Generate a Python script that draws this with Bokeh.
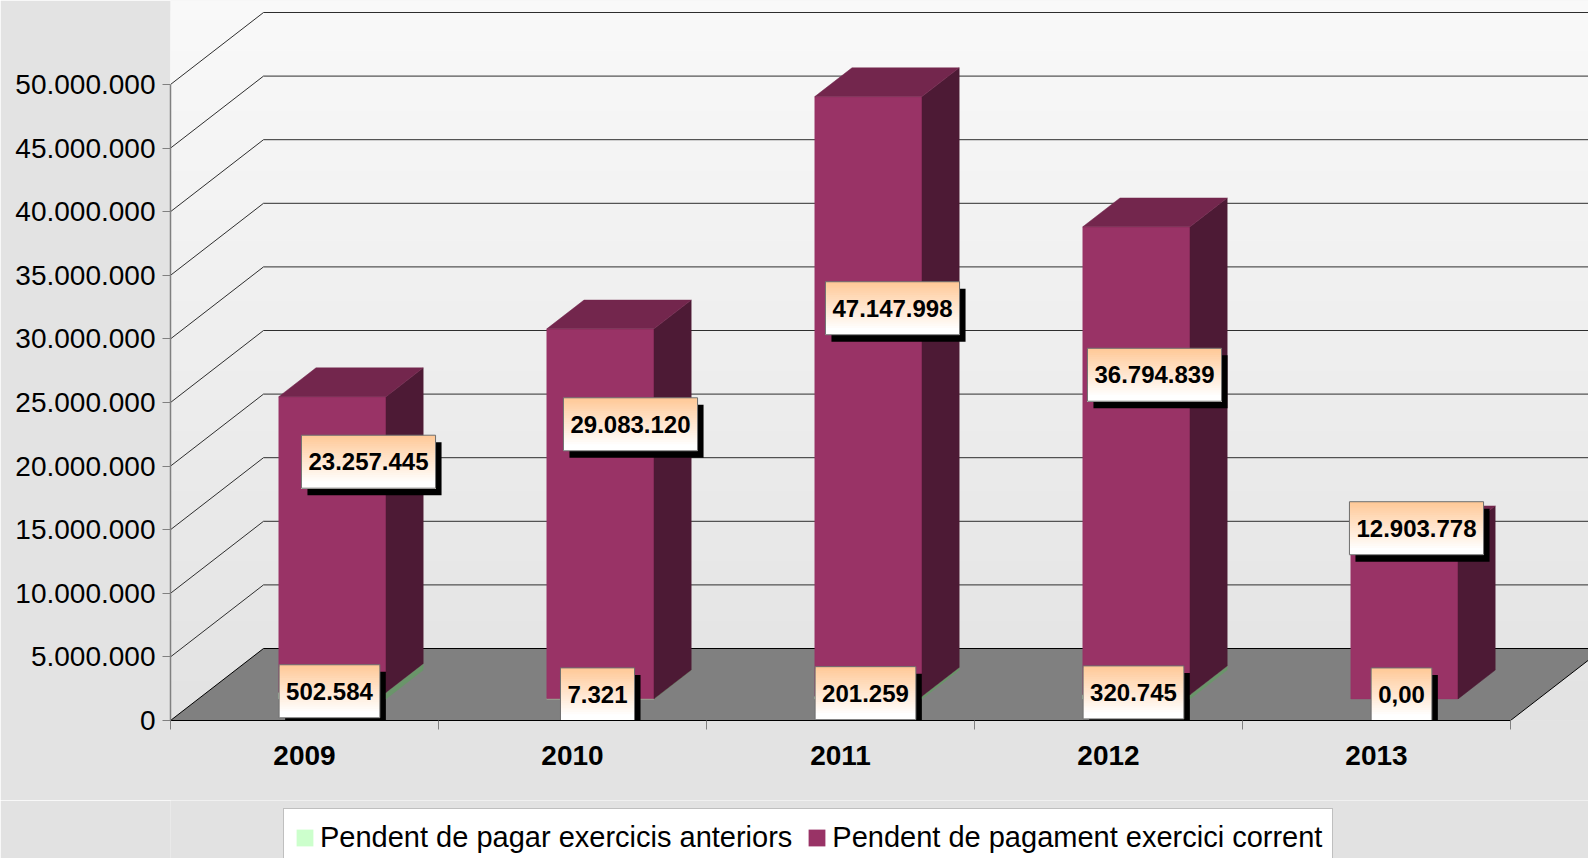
from bokeh.plotting import figure
from bokeh.layouts import column
from bokeh.models import Range1d, FixedTicker, Legend, LegendItem
from bokeh.embed import file_html
from bokeh.resources import INLINE
from bokeh.core.properties import value

# ---------------- data ----------------
years = ["2009", "2010", "2011", "2012", "2013"]
prev_years = [502584, 7321, 201259, 320745, 0]                     # Pendent de pagar exercicis anteriors
current_year = [23257445, 29083120, 47147998, 36794839, 12903778]  # Pendent de pagament exercici corrent
y_ticks = [0, 5000000, 10000000, 15000000, 20000000, 25000000,
           30000000, 35000000, 40000000, 45000000, 50000000]
series_names = ["Pendent de pagar exercicis anteriors", "Pendent de pagament exercici corrent"]

FONT = value("Liberation Sans")


def fmt(v):
    return "0,00" if v == 0 else f"{v:,}".replace(",", ".")


def tick_fmt(v):
    return "0" if v == 0 else f"{v:,}".replace(",", ".")


# ---------------- geometry (pixels -> data) ----------------
W, H = 1588, 858
LEG_FIG_H = 58
H1 = H - LEG_FIG_H
FRAME_L, PAD_B = 170, 80
FRAME_W, FRAME_H = W - FRAME_L, H1 - PAD_B
CAT_PX = 268.0                 # px per category
VAL_PX = 636.0 / 50e6          # px per value unit
x_end = FRAME_W / CAT_PX
y_end = FRAME_H / VAL_PX
DX = 93 / CAT_PX               # full depth offset
DY = 72 / VAL_PX
PXX = 1 / CAT_PX
PXY = 1 / VAL_PX


def P(x, v, d):
    return (x + d * DX, v + d * DY)


def grey(py):
    g = int(round(249 - 27 * py / 858))
    return "#%02x%02x%02x" % (g, g, g)


p = figure(width=W, height=H1, x_range=Range1d(0, x_end), y_range=Range1d(0, y_end),
           output_backend="svg", toolbar_location=None,
           min_border_left=FRAME_L, min_border_right=0, min_border_top=0, min_border_bottom=PAD_B)
p.xgrid.visible = False
p.ygrid.visible = False
p.outline_line_color = None
p.background_fill_color = "#EEEEEE"
p.border_fill_color = "#E3E3E3"

# background gradient in frame (each strip reaches the frame bottom; drawn top first)
NS = 72
bt, bb, bc = [], [], []
for k in range(NS - 1, -1, -1):
    ym = y_end * (k + 0.5) / NS
    bt.append(y_end * (k + 1) / NS)
    bb.append(0)
    bc.append(grey(FRAME_H * (1 - ym / y_end)))
p.quad(left=[0] * NS, right=[x_end + 1] * NS, top=bt, bottom=bb, fill_color=bc, line_color=None)

# walls gridlines
gx, gy = [], []
for v in y_ticks:
    if v == 0:
        continue
    a = P(0, v, 0); b = P(0, v, 1)
    gx.append([a[0], b[0], x_end + 1]); gy.append([a[1], b[1], b[1]])
p.multi_line(gx, gy, line_color="#2e2e2e", line_width=1)

# floor
fl = [P(0, 0, 0), P(5, 0, 0), P(5, 0, 1), P(0, 0, 1)]
p.patch([q[0] for q in fl], [q[1] for q in fl], fill_color="#808080", line_color="#000000", line_width=1)

# bars
D0, D1 = 0.3, 0.7
series = [
    (prev_years, "#CCFFCC", "#6A956A", "#99CC99"),
    (current_year, "#993366", "#4D1A35", "#73264D"),
]
base = [0] * len(years)
for vals, cf, cs, ct in series:
    fx, fy, sx, sy, tx, ty = [], [], [], [], [], []
    for i, v in enumerate(vals):
        v0, v1 = base[i], base[i] + v
        base[i] = v1
        if v <= 0:
            continue
        x0, x1 = i + 0.3, i + 0.7
        front = [P(x0, v0, D0), P(x1, v0, D0), P(x1, v1, D0), P(x0, v1, D0)]
        side = [P(x1, v0, D0), P(x1, v0, D1), P(x1, v1, D1), P(x1, v1, D0)]
        top = [P(x0, v1, D0), P(x1, v1, D0), P(x1, v1, D1), P(x0, v1, D1)]
        fx.append([q[0] for q in front]); fy.append([q[1] for q in front])
        sx.append([q[0] for q in side]); sy.append([q[1] for q in side])
        tx.append([q[0] for q in top]); ty.append([q[1] for q in top])
    p.patches(fx, fy, fill_color=cf, line_color=cf, line_width=0.5)
    p.patches(sx, sy, fill_color=cs, line_color=cs, line_width=0.5)
    p.patches(tx, ty, fill_color=ct, line_color=ct, line_width=0.5)

# data labels
LBL_FS = 24
lab_x, lab_y, lab_t = [], [], []
for i, v in enumerate(prev_years):
    lab_x.append(i + 0.5 + 25 * PXX)
    lab_y.append(D0 * DY + 0.35e6 + v / 2)
    lab_t.append(fmt(v))
for i, v in enumerate(current_year):
    lab_x.append(i + 0.5 + (64 - 6 * i) * PXX)
    lab_y.append(8.6e6 + 0.505 * v)
    lab_t.append(fmt(v))


def text_px(t):
    nd = sum(c.isdigit() for c in t)
    npn = len(t) - nd
    return LBL_FS * (0.556 * nd + 0.278 * npn)


HB = 53
sh_x, sh_y, sh_w = [], [], []
st_l, st_r, st_t, st_b, st_c = [], [], [], [], []
NSTR = 24
for cx, cy, t in zip(lab_x, lab_y, lab_t):
    wpx = text_px(t) + 14
    sh_x.append(cx + 6 * PXX); sh_y.append(cy - 7 * PXY); sh_w.append(wpx * PXX)
    top = cy + HB / 2 * PXY
    bot = cy - HB / 2 * PXY
    for k in range(NSTR):
        f = min(1.0, (k + 0.5) / (NSTR * 0.9))
        g = int(round(0xC8 + (255 - 0xC8) * f))
        b = int(round(0x96 + (255 - 0x96) * f))
        st_l.append(cx - wpx / 2 * PXX); st_r.append(cx + wpx / 2 * PXX)
        st_t.append(top - HB * k / NSTR * PXY); st_b.append(bot)
        st_c.append("#%02x%02x%02x" % (255, g, b))

p.rect(sh_x, sh_y, width=sh_w, height=HB * PXY, fill_color="#000000", line_color=None)
p.quad(left=st_l, right=st_r, top=st_t, bottom=st_b, fill_color=st_c, line_color=None)
p.rect(lab_x, lab_y, width=sh_w, height=HB * PXY, fill_alpha=0,
       line_color="#6E6E6E", line_width=1)
p.text(lab_x, lab_y, text=lab_t, text_align="center", text_baseline="middle",
       text_font=FONT, text_font_style="bold", text_font_size=f"{LBL_FS}px", text_color="#000000")

# axes
xa = p.xaxis[0]
xa.ticker = FixedTicker(ticks=[i + 0.5 for i in range(len(years))], minor_ticks=list(range(len(years) + 1)))
xa.major_label_overrides = {i + 0.5: y for i, y in enumerate(years)}
xa.bounds = (0, len(years))
xa.axis_line_color = "#000000"
xa.axis_line_width = 1
xa.major_tick_out = 0
xa.major_tick_in = 0
xa.major_tick_line_color = None
xa.minor_tick_out = 9
xa.minor_tick_in = 0
xa.minor_tick_line_color = "#808080"
xa.major_label_standoff = 16
xa.major_label_text_font = "Liberation Sans"
xa.major_label_text_font_style = "bold"
xa.major_label_text_font_size = "28px"
xa.major_label_text_color = "#000000"

ya = p.yaxis[0]
ya.ticker = FixedTicker(ticks=y_ticks, minor_ticks=[])
ya.major_label_overrides = {v: tick_fmt(v) for v in y_ticks}
ya.bounds = (0, y_ticks[-1])
ya.axis_line_color = "#808080"
ya.axis_line_width = 1.5
ya.major_tick_out = 8
ya.major_tick_in = 0
ya.major_tick_line_color = "#808080"
ya.minor_tick_line_color = None
ya.major_label_standoff = 7
ya.major_label_text_font = "Liberation Sans"
ya.major_label_text_font_size = "28px"
ya.major_label_text_color = "#000000"

# legend strip (separate figure under the chart; its frame lines up with the chart frame)
q = figure(width=W, height=LEG_FIG_H, x_range=Range1d(0, 1), y_range=Range1d(0, 1),
           output_backend="svg", toolbar_location=None, x_axis_type=None, y_axis_type=None,
           min_border_left=0, min_border_right=0, min_border_top=0, min_border_bottom=0)
q.xgrid.visible = False
q.ygrid.visible = False
q.outline_line_color = None
q.background_fill_color = "#E2E2E2"
q.border_fill_color = "#E2E2E2"
r1 = q.quad(left=[-5], right=[-4], top=[-4], bottom=[-5], fill_color="#CCFFCC", line_color=None)
r2 = q.quad(left=[-5], right=[-4], top=[-4], bottom=[-5], fill_color="#993366", line_color=None)
LEG_PAD, LEG_ITEM_H = 10, 36
leg_h = 2 * LEG_PAD + LEG_ITEM_H
leg_top = 810 - H1
legend = Legend(items=[LegendItem(label=series_names[0], renderers=[r1]),
                       LegendItem(label=series_names[1], renderers=[r2])],
                orientation="horizontal",
                location=(283 - FRAME_L, LEG_FIG_H - leg_top - leg_h),
                glyph_width=21, glyph_height=21, label_height=LEG_ITEM_H,
                label_text_font="Liberation Sans", label_text_font_size="29px",
                label_text_color="#000000", label_standoff=5, spacing=14,
                padding=LEG_PAD, margin=0,
                border_line_color="#808080", border_line_width=1.5,
                background_fill_color="#FFFFFF", background_fill_alpha=1.0)
q.add_layout(legend, "center")

layout = column(p, q, spacing=0)
open("out.html", "w").write(file_html(layout, INLINE))
